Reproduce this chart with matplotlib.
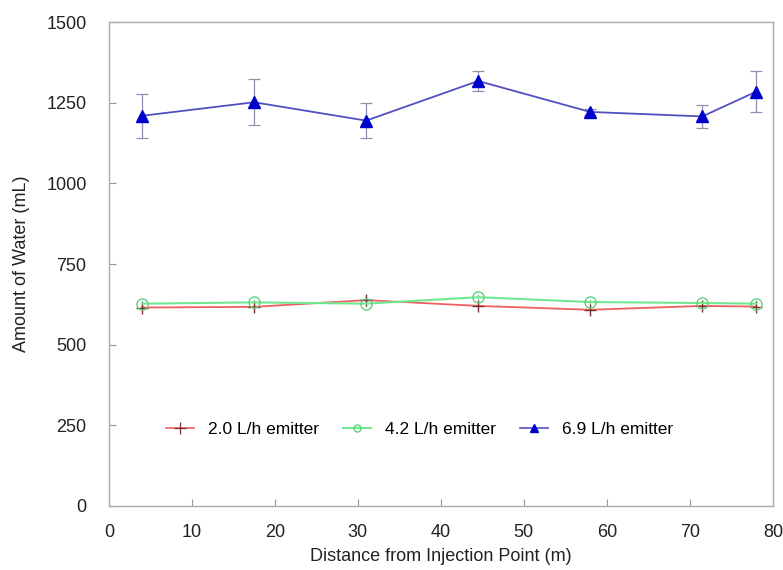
import matplotlib
matplotlib.use("Agg")
import matplotlib.pyplot as plt
from matplotlib.lines import Line2D

plt.rcParams['font.family'] = ['Liberation Sans', 'DejaVu Sans']

distance = [4, 17.5, 31, 44.5, 58, 71.5, 78]
water_20 = [615, 617, 638, 620, 608, 620, 618]
err_20 = [12, 12, 12, 12, 15, 10, 12]
water_42 = [627, 631, 627, 647, 632, 629, 627]
err_42 = [10, 10, 10, 10, 10, 10, 10]
water_69 = [1210, 1252, 1195, 1318, 1222, 1208, 1285]
err_69 = [68, 71, 54, 30, 10, 36, 63]

labels = ["2.0 L/h emitter", "4.2 L/h emitter", "6.9 L/h emitter"]
xticks = [0, 10, 20, 30, 40, 50, 60, 70, 80]
yticks = [0, 250, 500, 750, 1000, 1250, 1500]

fig = plt.figure(figsize=(7.83, 5.70), dpi=100)
ax = fig.add_axes([0.139, 0.1128, 0.848, 0.848])

red_line, red_mk = '#f06060', '#803030'
green_line, green_mk = '#70e890', '#60d080'
blue_line, blue_mk = '#5050c0', '#0000cc'

ax.errorbar(distance, water_20, yerr=err_20, color=red_line, lw=1.3,
            marker='+', ms=9, mec=red_mk, mew=1.0,
            ecolor='#a08080', elinewidth=0.8, capsize=0)
ax.errorbar(distance, water_42, yerr=err_42, color=green_line, lw=1.5,
            marker='o', ms=8, mfc='none', mec=green_mk, mew=1.0,
            ecolor='#90c0a0', elinewidth=0.8, capsize=0)
ax.errorbar(distance, water_69, yerr=err_69, color=blue_line, lw=1.3,
            marker='^', ms=8, mfc=blue_mk, mec=blue_mk,
            ecolor='#9090b0', elinewidth=0.9, capsize=4, capthick=0.9)

ax.set_xlim(0, 80)
ax.set_ylim(0, 1500)
ax.set_xticks(xticks)
ax.set_yticks(yticks)
ax.tick_params(direction='in', length=5, color='#999999', labelsize=13,
               labelcolor='#222222')
ax.tick_params(axis='y', pad=16)
ax.tick_params(axis='x', pad=13)
for s in ax.spines.values():
    s.set_color('#aaaaaa')
    s.set_linewidth(1.0)

ax.set_xlabel("Distance from Injection Point (m)", fontsize=13,
              color='#222222', labelpad=5)
ax.set_ylabel("Amount of Water (mL)", fontsize=13, color='#222222',
              labelpad=12)

handles = [
    Line2D([], [], color=red_line, lw=1.2, marker='+', ms=8, mec=red_mk, mew=0.9),
    Line2D([], [], color=green_line, lw=1.4, marker='o', ms=5, mfc='none', mec=green_mk),
    Line2D([], [], color=blue_line, lw=1.2, marker='^', ms=6, mfc=blue_mk, mec=blue_mk),
]
ax.legend(handles, labels, loc='center', bbox_to_anchor=(0.468, 0.157), ncol=3,
          frameon=False, fontsize=12.5, handlelength=1.6, columnspacing=1.4,
          handletextpad=0.8)

fig.savefig("out.png", dpi=100)
